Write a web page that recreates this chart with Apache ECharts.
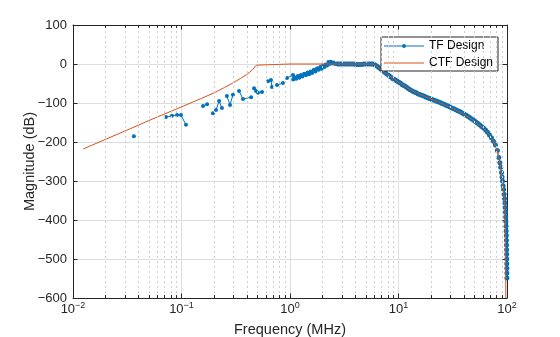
<!DOCTYPE html>
<html><head><meta charset="utf-8">
<script src="https://cdn.jsdelivr.net/npm/echarts@6/dist/echarts.min.js"></script>
<style>html,body{margin:0;padding:0;background:#fff}#c{width:560px;height:337px}</style>
</head><body><div id="c"></div>
<script>
// TF Design (null = gap between plotted segments)
const tfFreq = [0.0364, null,
  0.0719, 0.0817, 0.091, 0.0989, 0.110, null,
  0.158, 0.172, null,
  0.195, 0.208, 0.222, 0.236, null,
  0.262, 0.280, 0.298, null,
  0.339, 0.369, 0.438, null,
  0.466, 0.486, null,
  0.507, 0.552, null,
  0.627, 0.668, 0.682, null,
  0.759, 0.861, null,
  0.938, 1.066,
  1.07, 1.10, 1.14, 1.18, 1.22, 1.26, 1.30, 1.35, 1.40, 1.45, 1.50, 1.55, 1.60, 1.66, 1.72, 1.78, 1.84, 1.90, 1.96, 2.02, 2.08, 2.14, 2.20, 2.26, 2.32, 2.38, 2.45, 2.52, 2.60, 2.68, 2.76,
  2.88, 3.0, 3.13, 3.27, 3.41, 3.56, 3.71, 3.87, 4.04, 4.21, 4.39, 4.58, 4.78, 4.98, 5.2, 5.42, 5.65, 5.8,
  6.05, 6.3, 6.57, 6.85, 7.15, 7.45, 7.77, 8.1, 8.45, 8.8, 9.2, 9.6, 10.0, 10.4, 10.85, 11.3, 11.8, 12.3, 12.8, 13.4, 14.0, 14.6, 15.2, 15.9, 16.6, 17.3, 18.0, 18.8, 19.6, 20.4, 21.3, 22.2, 23.2, 24.2, 25.2, 26.3, 27.4, 28.6, 29.8, 31.1, 32.4, 33.8, 35.2, 36.7, 38.3, 40.0, 41.7, 43.5, 45.3, 47.3, 49.3, 51.4, 53.6, 55.9, 58.3, 60.8, 63.4, 66.1, 68.9, 71.9, 75.0, 78.2, 81.5, 84.0, 86.0, 87.5, 89.0, 90.0,
  91, 92, 93, 94, 94.8, 95.5, 96.2, 96.8, 97.3, 97.7, 98.0, 98.3, 98.6, 98.8, 99.0, 99.15, 99.3, 99.45, 99.55, 99.65, 99.75, 99.85];
const tfMag = [-185, null,
  -136, -133, -131, -131, -156, null,
  -108, -103, null,
  -126, -118, -95, -113, null,
  -82, -105, -79, null,
  -69, -90, -85, null,
  -62, -69, null,
  -74, -72, null,
  -44, -41, -59, null,
  -54, -49, null,
  -36, -28,
  -40, -34, -38, -31, -35, -28, -32, -25, -29, -22, -26, -19, -23, -15, -19, -11, -15, -8, -12, -4, -8, -1, -4, 5, 0, 6, 1, 4, 0, 1, 0,
  0, 0, 0, 0, 0, 0, 0, 0, -1, -1, -1, -1, 0, 0, 0, 0, 0, 0,
  -2, -5, -9, -13, -17, -21, -25, -29, -33, -37, -40, -43, -46, -49, -53, -56, -59, -63, -66, -69, -72, -74, -77, -79, -81, -83, -85, -87, -89, -91, -93, -95, -97, -99, -101, -103, -106, -108, -110, -113, -115, -117, -120, -122, -125, -128, -131, -134, -137, -141, -144, -148, -152, -156, -160, -164, -169, -175, -182, -189, -198, -208, -222, -240, -253, -265, -278, -290,
  -300, -312, -322, -334, -345, -356, -368, -380, -392, -404, -416, -428, -440, -452, -464, -476, -488, -500, -512, -524, -536, -549];

// CTF Design
const ctfFreq = [0.0124, 0.015, 0.02, 0.03, 0.04, 0.05, 0.07, 0.1, 0.15, 0.2, 0.25, 0.3, 0.35, 0.4, 0.45, 0.49, 0.5,
  1, 2, 3, 4, 5, 5.8,
  6.0, 6.2, 6.65, 7.5, 8.5, 10, 11.5, 13.4, 16, 19.2, 23, 27.5, 33, 38.5, 46, 55, 62, 68, 74, 79, 82, 84, 87, 90, 92, 94, 95.5, 96.5, 97.2, 97.5];
const ctfMag = [-218, -208, -193, -172, -157, -145, -128, -110, -89, -74, -60, -48, -37, -27, -15, -3, 0,
  0, 0, 0, 0, 0, 0,
  -2, -4, -11, -22, -33, -46, -57, -69, -79, -88, -97, -106, -116, -126, -139, -155, -167, -180, -195, -211, -225, -240, -262, -290, -315, -340, -370, -410, -470, -600];

const xTicks = [0.01, 0.1, 1, 10, 100];
const xMinor = [0.02,0.03,0.04,0.05,0.06,0.07,0.08,0.09, 0.2,0.3,0.4,0.5,0.6,0.7,0.8,0.9, 2,3,4,5,6,7,8,9, 20,30,40,50,60,70,80,90];
const yMin = -600, yMax = 100, yStep = 100;

const FONT = '"Liberation Sans", Arial, Helvetica, sans-serif';
const DARK = '#262626';
const BLUE = '#0072BD', ORANGE = '#D95319';

const tfData = tfFreq.map((f, i) => f === null ? ['-', '-'] : [f, tfMag[i]]);
const ctfData = ctfFreq.map((f, i) => [f, ctfMag[i]]);

const minorTickLines = [];
xMinor.forEach(v => {
  minorTickLines.push([{coord: [v, yMin]}, {coord: [v, yMin + 7.5]}]);
  minorTickLines.push([{coord: [v, yMax]}, {coord: [v, yMax - 7.5]}]);
});

const chart = echarts.init(document.getElementById('c'), null, {renderer: 'canvas'});
chart.setOption({
  animation: false,
  backgroundColor: '#fff',
  textStyle: {fontFamily: FONT},
  grid: {left: 73, right: 53, top: 25, bottom: 39, containLabel: false, outerBoundsMode: 'none'},
  legend: {
    data: [
      {name: 'TF Design', icon: 'path://M0,4.5h40v1h-40z M22,5a2,2 0 1,1 -4,0a2,2 0 1,1 4,0z', itemStyle: {color: BLUE}},
      {name: 'CTF Design', icon: 'path://M0,4.5h40v1h-40z', itemStyle: {color: ORANGE}}
    ],
    orient: 'vertical', left: 381, top: 37,
    itemWidth: 40, itemHeight: 10, itemGap: 5,
    padding: [3, 5, 2, 3],
    borderColor: DARK, borderWidth: 1, backgroundColor: '#fff',
    textStyle: {fontSize: 12, color: '#000', fontFamily: FONT},
    selectedMode: false
  },
  xAxis: [{
    type: 'log', logBase: 10, min: 0.01, max: 100,
    name: 'Frequency (MHz)', nameLocation: 'middle', nameGap: 24, nameMoveOverlap: false,
    nameTextStyle: {fontSize: 14.5, color: DARK, fontFamily: FONT},
    axisLine: {show: true, onZero: false, lineStyle: {color: DARK, width: 1}},
    axisTick: {show: true, inside: true, length: 4.5, lineStyle: {color: DARK}},
    axisLabel: {
      margin: 3,
      formatter: v => {
        const e = Math.round(Math.log10(v));
        return '{b|10}{s|' + (e < 0 ? '\u2212' + (-e) : e) + '}';
      },
      rich: {
        b: {fontSize: 13, lineHeight: 15, color: DARK, fontFamily: FONT, verticalAlign: 'bottom'},
        s: {fontSize: 9, lineHeight: 2, color: DARK, fontFamily: FONT, verticalAlign: 'top'}
      }
    },
    splitLine: {show: true, lineStyle: {color: '#dedede', width: 1}}
  }, {
    type: 'log', logBase: 10, min: 0.01, max: 100, position: 'top',
    axisLine: {show: true, onZero: false, lineStyle: {color: DARK, width: 1}},
    axisTick: {show: true, inside: true, length: 4.5, lineStyle: {color: DARK}},
    axisLabel: {show: false}, splitLine: {show: false}
  }],
  yAxis: [{
    type: 'value', min: yMin, max: yMax, interval: yStep,
    name: 'Magnitude (dB)', nameLocation: 'middle', nameGap: 36, nameMoveOverlap: false,
    nameTextStyle: {fontSize: 14.5, color: DARK, fontFamily: FONT},
    axisLine: {show: true, onZero: false, lineStyle: {color: DARK, width: 1}},
    axisTick: {show: true, inside: true, length: 4.5, lineStyle: {color: DARK}},
    axisLabel: {
      margin: 6, fontSize: 13, color: DARK, fontFamily: FONT,
      formatter: v => v < 0 ? '\u2212' + (-v) : String(v)
    },
    splitLine: {show: true, lineStyle: {color: '#dedede', width: 1}}
  }, {
    type: 'value', min: yMin, max: yMax, interval: yStep, position: 'right',
    axisLine: {show: true, onZero: false, lineStyle: {color: DARK, width: 1}},
    axisTick: {show: true, inside: true, length: 4.5, lineStyle: {color: DARK}},
    axisLabel: {show: false}, splitLine: {show: false}
  }],
  series: [{
    name: 'minor-grid', type: 'line', data: [], z: 1, silent: true,
    markLine: {
      silent: true, symbol: ['none', 'none'], animation: false,
      label: {show: false},
      lineStyle: {color: '#cdcdcd', width: 1, type: [2, 3]},
      data: xMinor.map(v => ({xAxis: v}))
    }
  }, {
    name: 'minor-ticks', type: 'line', data: [], z: 5, silent: true,
    markLine: {
      silent: true, symbol: ['none', 'none'], animation: false,
      label: {show: false},
      lineStyle: {color: DARK, width: 1, type: 'solid'},
      data: minorTickLines
    }
  }, {
    name: 'TF Design', type: 'line', data: tfData, z: 3,
    color: BLUE,
    symbol: 'circle', symbolSize: v => (v[0] > 2.7 ? 5 : 4), showSymbol: true, showAllSymbol: true,
    lineStyle: {width: 1, color: BLUE, type: 'solid'},
    itemStyle: {color: BLUE},
    connectNulls: false, silent: true
  }, {
    name: 'CTF Design', type: 'line', data: ctfData, z: 4,
    color: ORANGE,
    symbol: 'none', showSymbol: false,
    lineStyle: {width: 1, color: ORANGE},
    itemStyle: {color: ORANGE},
    silent: true
  }]
});
</script>
</body></html>
